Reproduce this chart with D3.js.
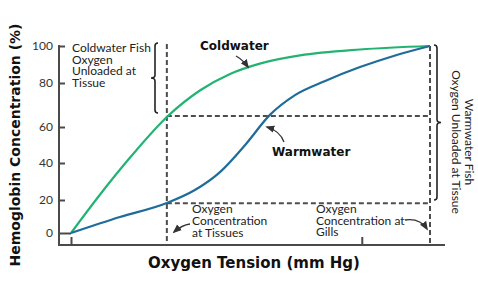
<!DOCTYPE html>
<html><head><meta charset="utf-8">
<script src="https://cdn.jsdelivr.net/npm/d3@7"></script>
<style>
html,body{margin:0;padding:0;background:#fff;}
svg{display:block;font-family:Lato,"Open Sans",sans-serif;}
</style></head>
<body><svg id="c" width="478" height="290"></svg>
<script>
// ---- data ----
const yTicks = [0, 20, 40, 60, 80, 100];
const xTicks = [0, 81];
const coldX = [0, 8.1, 16.4, 27, 35.9, 44.3, 52.6, 63.8, 80.5, 100];
const coldY = [0, 23.0, 42.9, 65, 76.6, 84.9, 90.5, 94.9, 98.1, 100];
const warmX = [0, 13.6, 26.7, 34.5, 41.5, 48.5, 55.4, 62.4, 70.8, 80.5, 90.3, 100];
const warmY = [0, 9.7, 18.2, 25.4, 35.1, 50, 65.5, 74.5, 81.1, 88.6, 94.9, 100];
const tissueX = 26.7, gillsX = 100;
const coldLevel = 65, warmLevel = 18;

const svg = d3.select("#c");
const axisX = 59, axisY = 245;
const x = d3.scaleLinear().domain([0, 100]).range([71, 430]);
// tick labels in the original are unevenly spaced
const y = d3.scaleLinear().domain(yTicks).range([233, 200, 163, 127, 83, 46]);

const grey = "#4a4a4a";
const dash = "#4d4d4d";
const boldFont = "'DejaVu Sans', sans-serif";

svg.append("defs").append("marker").attr("id", "ah")
  .attr("viewBox", "0 0 10 10").attr("refX", 8).attr("refY", 5)
  .attr("markerWidth", 7).attr("markerHeight", 7).attr("orient", "auto")
  .append("path").attr("d", "M0,1 L10,5 L0,9 Z").attr("fill", "#333");

// axes
const yAx = svg.append("g").attr("transform", `translate(${axisX},0)`)
  .call(d3.axisLeft(y).tickValues(yTicks).tickSizeInner(-6).tickSizeOuter(0).tickPadding(6));
yAx.select(".domain").remove();
yAx.selectAll(".tick line").attr("stroke", grey).attr("stroke-width", 2)
  .filter(d => d === 0).attr("x2", x(0) - axisX);
yAx.selectAll(".tick text").attr("font-size", 12).attr("fill", "#333").attr("font-family", "Lato, sans-serif");

const xAx = svg.append("g").attr("transform", `translate(0,${axisY})`)
  .call(d3.axisBottom(x).tickValues(xTicks).tickSizeInner(-8).tickSizeOuter(0).tickFormat(""));
xAx.select(".domain").remove();
xAx.selectAll(".tick line").attr("stroke", grey).attr("stroke-width", 2);

svg.append("line").attr("x1", axisX).attr("x2", axisX).attr("y1", y(100) - 1).attr("y2", axisY + 1)
  .attr("stroke", grey).attr("stroke-width", 2);
svg.append("line").attr("x1", axisX - 1).attr("x2", 445).attr("y1", axisY).attr("y2", axisY)
  .attr("stroke", grey).attr("stroke-width", 2);

// dashed reference lines
const dl = (x1, y1, x2, y2) => svg.append("line").attr("x1", x1).attr("y1", y1).attr("x2", x2).attr("y2", y2)
  .attr("stroke", dash).attr("stroke-width", 2).attr("stroke-dasharray", "5,3");
dl(x(tissueX), y(100) - 2, x(tissueX), axisY);
dl(x(gillsX), y(100), x(gillsX), axisY);
dl(x(tissueX), y(coldLevel), x(gillsX), y(coldLevel));
dl(x(tissueX), y(warmLevel), x(gillsX), y(warmLevel));

// curves
const line = d3.line().x(d => x(d[0])).y(d => y(d[1])).curve(d3.curveMonotoneX);
svg.append("path").attr("d", line(coldX.map((v, i) => [v, coldY[i]])))
  .attr("fill", "none").attr("stroke", "#22b372").attr("stroke-width", 2.2);
svg.append("path").attr("d", line(warmX.map((v, i) => [v, warmY[i]])))
  .attr("fill", "none").attr("stroke", "#1f6c98").attr("stroke-width", 2.2);

// braces
function brace(bx, y1, y2, dir, w) {
  const ym = (y1 + y2) / 2, h = -dir * w, t = dir * 4;
  return `M${bx + h},${y1} Q${bx},${y1} ${bx},${y1 + w} L${bx},${ym - w} Q${bx},${ym} ${bx + t},${ym} ` +
    `Q${bx},${ym} ${bx},${ym + w} L${bx},${y2 - w} Q${bx},${y2} ${bx + h},${y2}`;
}
svg.append("path").attr("d", brace(155, 43, 113, -1, 3)).attr("fill", "none").attr("stroke", "#222").attr("stroke-width", 1.6);
svg.append("path").attr("d", brace(437, 45, 200, 1, 3)).attr("fill", "none").attr("stroke", "#222").attr("stroke-width", 1.6);

// annotation text
function multi(lines, tx, ty, lh) {
  const t = svg.append("text").attr("x", tx).attr("y", ty).attr("font-size", 12).attr("fill", "#222");
  lines.forEach((s, i) => t.append("tspan").attr("x", tx).attr("dy", i ? lh : 0).text(s));
  return t;
}
multi(["Coldwater Fish", "Oxygen", "Unloaded at", "Tissue"], 72, 52, 11.5);
multi(["Oxygen", "Concentration", "at Tissues"], 192, 213, 12);
multi(["Oxygen", "Concentration at", "Gills"], 316, 213, 11.5);

const rt = svg.append("text").attr("transform", "translate(465,142) rotate(90)")
  .attr("text-anchor", "middle").attr("font-size", 12).attr("fill", "#222");
rt.append("tspan").attr("x", 0).attr("y", 0).text("Warmwater Fish");
rt.append("tspan").attr("x", 0).attr("y", 13).text("Oxygen Unloaded at Tissue");

svg.append("text").attr("x", 200).attr("y", 50).attr("font-size", 12).attr("font-weight", "bold")
  .attr("font-family", boldFont).attr("fill", "#111").text("Coldwater");
svg.append("text").attr("x", 272).attr("y", 156).attr("font-size", 12).attr("font-weight", "bold")
  .attr("font-family", boldFont).attr("fill", "#111").text("Warmwater");

// arrows
const arr = d => svg.append("path").attr("d", d).attr("fill", "none").attr("stroke", "#333")
  .attr("stroke-width", 1.3).attr("marker-end", "url(#ah)");
arr("M236,56 Q243,60 248,67");
arr("M284,142 Q280,131 267,127");
arr("M190,224 Q182,225 174,232");
arr("M405,220 Q420,218 427,229");

// axis titles
svg.append("text").attr("x", 254).attr("y", 268).attr("text-anchor", "middle")
  .attr("font-size", 15).attr("font-weight", "bold").attr("font-family", boldFont)
  .attr("fill", "#111").text("Oxygen Tension (mm Hg)");
svg.append("text").attr("transform", "translate(20,145) rotate(-90)").attr("text-anchor", "middle")
  .attr("font-size", 14).attr("font-weight", "bold").attr("font-family", boldFont)
  .attr("fill", "#111").text("Hemoglobin Concentration (%)");
</script></body></html>
